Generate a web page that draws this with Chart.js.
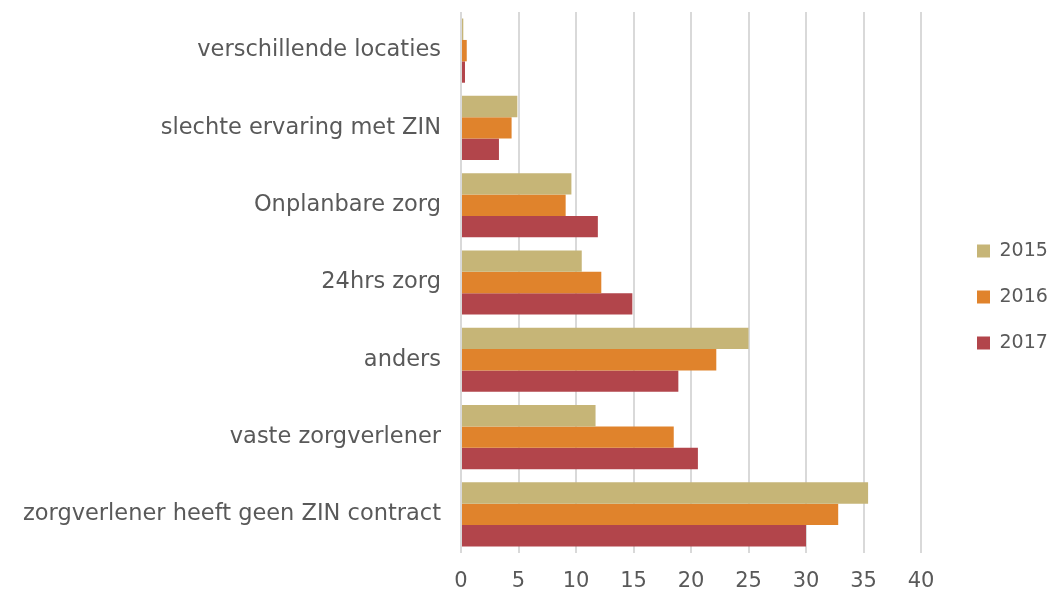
<!DOCTYPE html>
<html>
<head>
<meta charset="utf-8">
<script src="https://cdn.jsdelivr.net/npm/chart.js@4"></script>
<style>
  html, body { margin: 0; padding: 0; background: #fff; }
  #wrap { width: 1052px; height: 594px; }
</style>
</head>
<body>
<div id="wrap"><canvas id="chart" width="1052" height="594"></canvas></div>
<script>
const categories = [
  "verschillende locaties",
  "slechte ervaring met ZIN",
  "Onplanbare zorg",
  "24hrs zorg",
  "anders",
  "vaste zorgverlener",
  "zorgverlener heeft geen ZIN contract"
];
const years = ["2015", "2016", "2017"];
const values2015 = [0.2, 4.9, 9.6, 10.5, 25.0, 11.7, 35.4];
const values2016 = [0.5, 4.4, 9.1, 12.2, 22.2, 18.5, 32.8];
const values2017 = [0.35, 3.3, 11.9, 14.9, 18.9, 20.6, 30.0];
const colors = ["#C6B577", "#E0832C", "#B2454B"];

const font = "'DejaVu Sans', sans-serif";
const textColor = "#595959";

// fixed legend width, then nudge the items right to leave a gap after the plot
const legendGap = {
  id: "legendGap",
  afterInit(chart) {
    const legend = chart.legend;
    const fit = legend.fit.bind(legend);
    legend.fit = function () {
      fit();
      this.width = 131;
    };
  },
  afterLayout(chart) {
    chart.legend.left += 29;
    chart.legend.right += 29;
  }
};

const chart = new Chart(document.getElementById("chart"), {
  type: "bar",
  data: {
    labels: categories,
    datasets: [values2015, values2016, values2017].map((vals, i) => ({
      label: years[i],
      data: vals,
      backgroundColor: colors[i],
      barPercentage: 1,
      categoryPercentage: 0.83
    }))
  },
  options: {
    indexAxis: "y",
    responsive: false,
    animation: false,
    layout: { padding: 0 },
    plugins: {
      legend: {
        position: "right",
        labels: {
          font: { family: font, size: 19 },
          color: textColor,
          boxWidth: 13,
          boxHeight: 13,
          padding: 27
        }
      },
      tooltip: { enabled: false }
    },
    scales: {
      x: {
        min: 0,
        max: 40,
        afterFit(scale) { scale.height = 41; },
        ticks: {
          stepSize: 5,
          font: { family: font, size: 21 },
          color: textColor,
          padding: 16
        },
        grid: { color: "#d9d9d9", lineWidth: 2, drawTicks: false },
        border: { display: false }
      },
      y: {
        afterFit(scale) {
          scale.width = 461;
          scale.paddingTop = 12;
          scale.paddingBottom = 0;
        },
        ticks: {
          font: { family: font, size: 22.5 },
          color: textColor,
          padding: 20
        },
        grid: { display: false, drawTicks: false },
        border: { display: false }
      }
    }
  },
  plugins: [legendGap]
});
</script>
</body>
</html>
